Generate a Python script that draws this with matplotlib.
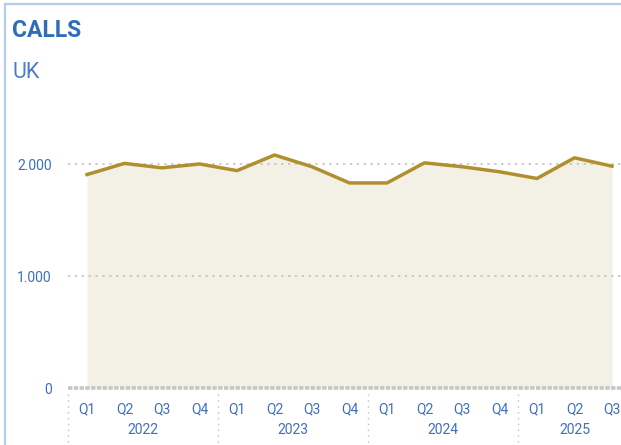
import matplotlib
matplotlib.use("Agg")
import matplotlib.pyplot as plt
from matplotlib.patches import Rectangle
import matplotlib.transforms as mtransforms

quarters = ["Q1", "Q2", "Q3", "Q4", "Q1", "Q2", "Q3", "Q4",
            "Q1", "Q2", "Q3", "Q4", "Q1", "Q2", "Q3"]
years = ["2022", "2023", "2024", "2025"]
calls = [1910, 2010, 1970, 2005, 1945, 2085, 1980, 1835,
         1835, 2015, 1980, 1935, 1875, 2060, 1985]
yticks = [0, 1000, 2000]
ytick_labels = ["0", "1.000", "2.000"]

W, H = 621, 445
plt.rcParams['font.family'] = ['Roboto', 'DejaVu Sans']
fig = plt.figure(figsize=(W / 100, H / 100), dpi=100)

# axes geometry in pixels
step = 37.5
x_left = 68.25
y_zero = 388
px_per_unit = 111.75 / 1000
ytop = 2600
ax = fig.add_axes([x_left / W, (H - y_zero) / H, 15 * step / W, ytop * px_per_unit / H])

blue = '#3E6FC2'
line_c = '#B0902E'
fill_c = '#F3F0E6'

x = list(range(len(calls)))
ax.fill_between(x, 0, calls, color=fill_c, lw=0, zorder=1)
ax.plot(x, calls, color=line_c, lw=2.5, solid_joinstyle='round', zorder=3)

ax.set_xlim(-0.5, len(calls) - 0.5)
ax.set_ylim(0, ytop)
for s in ax.spines.values():
    s.set_visible(False)

for v in (1000, 2000):
    ax.axhline(v, color='#BDBDBD', lw=1.1, ls=(0, (1.5, 3)), zorder=2)
ax.axhline(0, color='#C6C6C6', lw=2.6, ls=(0, (1.2, 0.4)), zorder=4, clip_on=False)

ax.set_yticks(yticks)
ax.set_yticklabels(ytick_labels)
ax.set_xticks(x)
ax.set_xticklabels(quarters)
ax.tick_params(axis='both', length=0, colors=blue, labelsize=10)
ax.tick_params(axis='y', pad=12)
ax.tick_params(axis='x', pad=10)

# year labels and separators
trans = mtransforms.blended_transform_factory(ax.transData, fig.transFigure)
for i, yr in enumerate(years):
    start = i * 4
    end = min(start + 3, len(calls) - 1)
    ax.text((start + end) / 2, (H - 430) / H, yr, transform=trans,
            ha='center', va='center', color=blue, fontsize=10)
for b in range(len(years) + 1):
    xb = b * 4 - 0.5
    ax.plot([xb, xb], [(H - 394) / H, 0], transform=trans, color='#C8C8C8',
            lw=1, ls=(0, (1.2, 3)), clip_on=False)

# titles
fig.text(12 / W, 1 - 37 / H, "CALLS", color='#2F6DB8', fontsize=16.5,
         fontweight='bold', ha='left', va='baseline')
fig.text(12 / W, 1 - 78 / H, "UK", color='#4A7BCF', fontsize=15.5,
         ha='left', va='baseline')

# frame border
fig.patches.append(Rectangle((5 / W, -0.1), 1.2, 1 - 4 / H + 0.1,
                             transform=fig.transFigure, fill=False,
                             edgecolor='#B4CDEB', lw=1.6))

fig.savefig("out.png", dpi=100)
